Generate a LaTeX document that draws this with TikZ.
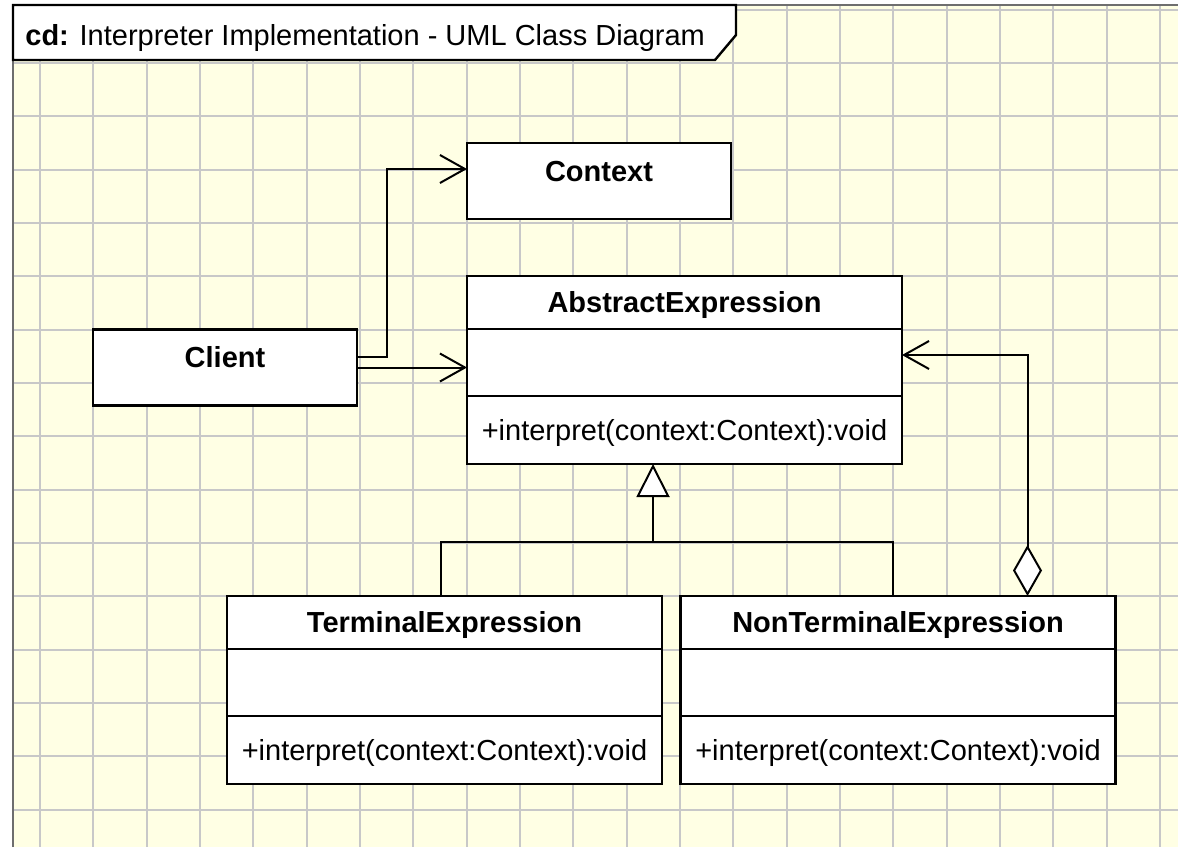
\documentclass[tikz,border=0pt]{standalone}
\usepackage{fontspec}
\setmainfont{Liberation Sans}
\usepackage{tikz}
\usetikzlibrary{positioning,arrows.meta}
\definecolor{paper}{RGB}{255,255,228}
\definecolor{gridgray}{RGB}{200,200,200}
\definecolor{framegray}{RGB}{110,110,110}

\begin{document}
\begin{tikzpicture}[x=0.5pt,y=-0.5pt,
  gridline/.style={draw=gridgray,line width=1pt},
  cls/.style={draw,fill=white,line width=1.2pt,inner sep=0pt,outer sep=0pt,minimum width=217.5pt,font=\fontsize{14.5}{17}\selectfont},
  hdr/.style={cls,minimum height=26.5pt,text height=10.4pt,text depth=0pt,font=\fontsize{14.5}{17}\selectfont\bfseries},
  attr/.style={cls,minimum height=33.5pt},
  ops/.style={cls,minimum height=34pt,text height=10.4pt,text depth=0pt},
  single/.style={cls,minimum width=132pt,minimum height=38pt,text height=10.4pt,text depth=10pt,font=\fontsize{14.5}{17}\selectfont\bfseries},
  assoc/.style={line width=1pt,-{Straight Barb[length=12.5pt,width=14pt]}},
  gen/.style={line width=1pt,-{Triangle[length=16.5pt,width=16.5pt,fill=white]}},
  agg/.style={line width=1pt,{Diamond[length=25.5pt,width=14.5pt,fill=white]}-{Straight Barb[length=12.5pt,width=14pt]}}]
\useasboundingbox (0,0) rectangle (1178,847);

% paper and grid
\fill[paper] (13,5) rectangle (1178,847);
\foreach \i in {0,...,21}
  \draw[gridline] ({40+53.333*\i},5) -- ({40+53.333*\i},847);
\foreach \j in {0,...,15}
  \draw[gridline] (13,{9.7+53.333*\j}) -- (1178,{9.7+53.333*\j});
\draw[framegray,line width=1pt] (13,847) -- (13,5) -- (1178,5);

% frame title
\draw[fill=white,line width=1.2pt] (13,5) -- (736,5) -- (736,35) -- (715,60) -- (13,60) -- cycle;
\node[anchor=base west,inner sep=0pt,font=\fontsize{14.5}{16}\selectfont] (ttl) at (25,45)
  {\textbf{cd:} Interpreter Implementation - UML Class Diagram};

% classes
\node[single] (ctx) at (599,181) {Context};
\node[single] (cli) at (225,367.5) {Client};

\node[hdr] (absH) at (684.5,302.5) {AbstractExpression};
\node[attr,below=0pt of absH] (absA) {};
\node[ops,below=0pt of absA] (absO) {+interpret(context:Context):void};

\node[hdr] (terH) at (444.5,622.5) {TerminalExpression};
\node[attr,below=0pt of terH] (terA) {};
\node[ops,below=0pt of terA] (terO) {+interpret(context:Context):void};

\node[hdr] (nonH) at (898,622.5) {NonTerminalExpression};
\node[attr,below=0pt of nonH] (nonA) {};
\node[ops,below=0pt of nonA] (nonO) {+interpret(context:Context):void};

% relations
\draw[assoc] ([yshift=5.5pt]cli.east) -- ++(15pt,0) |- ([yshift=6pt]ctx.west);
\draw[assoc] (cli.east) -- (cli.east -| absA.west);

\coordinate (gj) at (653,542);
\draw[gen] (gj) -- (gj |- absO.south);
\draw[line width=1pt] ([xshift=-2pt]terH.north) |- (gj) -| ([xshift=-2.5pt]nonH.north);

\draw[agg] ([xshift=-44pt]nonH.north east) |- ([yshift=3.75pt]absA.east);
\end{tikzpicture}
\end{document}
